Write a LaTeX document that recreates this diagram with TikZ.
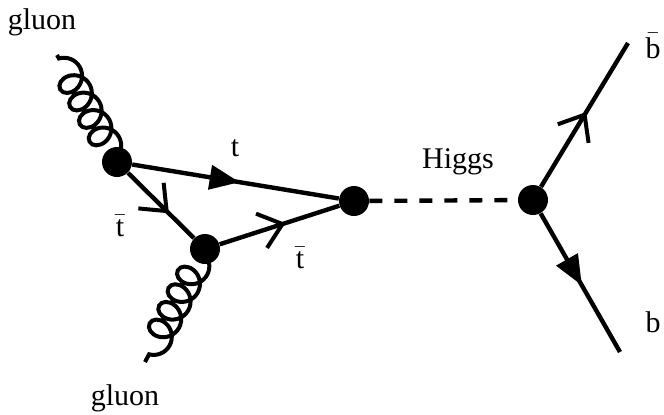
\documentclass[tikz,border=0pt]{standalone}
\usepackage{fontspec}
\setmainfont{Liberation Serif}
\usetikzlibrary{arrows.meta,decorations.pathmorphing,decorations.markings}

\begin{document}
\begin{tikzpicture}[x=0.5pt,y=-0.5pt,
    vertex/.style={circle,fill=black,inner sep=0pt,minimum size=15pt},
    fermion/.style={line width=2.2pt},
    lbl/.style={font=\fontsize{15}{18}\selectfont,inner sep=0pt},
    gluon/.style={line width=2pt,decorate,
      decoration={coil,aspect=0.9,segment length=10pt,amplitude=7pt,pre length=2pt}},
    fillarrow/.style={postaction={decorate},decoration={markings,
      mark=at position #1 with {\arrow{Triangle[length=15pt,width=12pt]}}}},
    openarrow/.style={postaction={decorate},decoration={markings,
      mark=at position #1 with {\arrow[line width=2pt]{Straight Barb[length=11pt,width=18pt]}}}}
  ]
  \useasboundingbox (0,0) rectangle (664,414);
  % vertices
  \node[vertex] (A) at (117,162) {};
  \node[vertex] (B) at (205,249) {};
  \node[vertex] (C) at (354,201) {};
  \node[vertex] (D) at (533,200) {};
  \coordinate (g1) at (57,55);
  \coordinate (g2) at (145,362);
  \coordinate (bb) at (628,43);
  \coordinate (b) at (620,352);
  % lines
  \draw[gluon] (g1) -- (A.center);
  \draw[gluon] (B.center) -- (g2);
  \draw[fermion,fillarrow=0.52] (A) -- (C);
  \draw[fermion,openarrow=0.62] (A) -- (B);
  \draw[fermion,openarrow=0.55] (B) -- (C);
  \draw[fermion,dash pattern=on 6.5pt off 6pt] (C) -- (D);
  \draw[fermion,openarrow=0.52] (D) -- (bb);
  \draw[fermion,fillarrow=0.52] (D) -- (b);
  % labels
  \node[lbl] (lg1) at (42,22) {gluon};
  \node[lbl] (lg2) at (125,398) {gluon};
  \node[lbl] (lt) at (235,148) {t};
  \node[lbl] (ltb1) at (120,226) {$\bar{\textrm{t}}$};
  \node[lbl] (ltb2) at (300,258) {$\bar{\textrm{t}}$};
  \node[lbl] (lh) at (458,162) {Higgs};
  \node[lbl] (lbb) at (653,46) {$\bar{\textrm{b}}$};
  \node[lbl] (lb) at (653,322) {b};
\end{tikzpicture}
\end{document}
